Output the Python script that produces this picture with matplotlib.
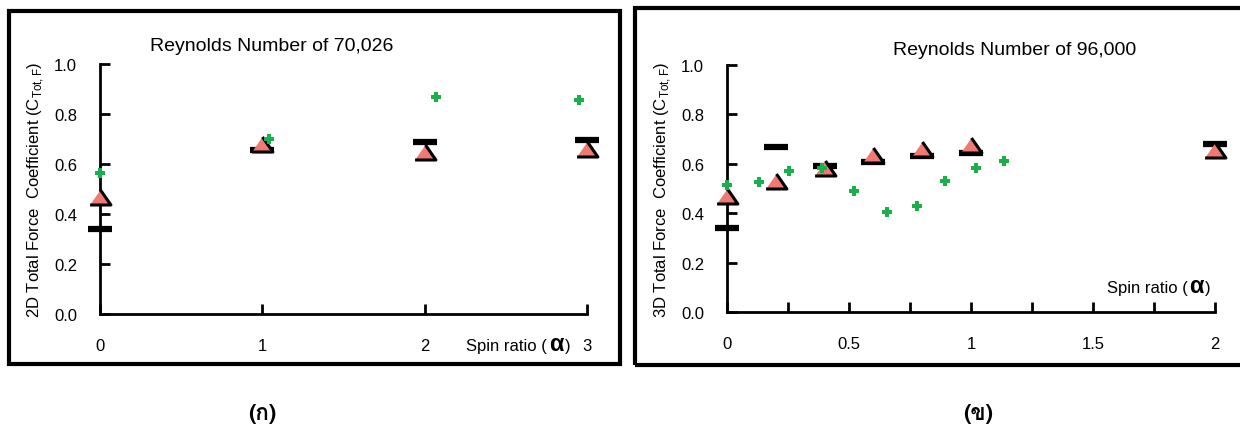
import numpy as np
import matplotlib
matplotlib.use("Agg")
import matplotlib.pyplot as plt
from matplotlib.patches import Rectangle
from matplotlib.transforms import offset_copy

# ---- data ----
# panel (ก): Re = 70,026, 2D
a2d_tri_x = [0, 1, 2, 3]
a2d_tri_y = [0.47, 0.68, 0.65, 0.66]
a2d_bar_x = [0, 1, 2, 3]
a2d_bar_y = [0.34, 0.655, 0.69, 0.695]
a2d_plus_x = [0.0, 1.04, 2.07, 2.95]
a2d_plus_y = [0.565, 0.70, 0.87, 0.855]

# panel (ข): Re = 96,000, 3D
a3d_tri_x = [0, 0.2, 0.4, 0.6, 0.8, 1.0, 2.0]
a3d_tri_y = [0.47, 0.53, 0.585, 0.635, 0.66, 0.675, 0.655]
a3d_bar_x = [0, 0.2, 0.4, 0.6, 0.8, 1.0, 2.0]
a3d_bar_y = [0.34, 0.67, 0.59, 0.608, 0.63, 0.643, 0.682]
a3d_plus_x = [0.0, 0.13, 0.255, 0.39, 0.52, 0.655, 0.78, 0.895, 1.02, 1.135]
a3d_plus_y = [0.515, 0.526, 0.571, 0.585, 0.49, 0.404, 0.431, 0.529, 0.584, 0.611]

y_ticks = [0.0, 0.2, 0.4, 0.6, 0.8, 1.0]
x_ticks_2d = [0, 1, 2, 3]
x_ticks_3d = [0, 0.5, 1, 1.5, 2]
x_minor_3d = [0.25, 0.75, 1.25, 1.75]

plt.rcParams['font.family'] = ['Liberation Sans', 'DejaVu Sans']
plt.rcParams['mathtext.fontset'] = 'custom'
plt.rcParams['mathtext.rm'] = 'Liberation Sans'

TRI = [(-1, -0.72), (1, -0.72), (0, 0.72)]
TRI_FC = '#f07a72'
GREEN = '#19b04b'
FS = 12


def panel(ax, tri_x, tri_y, bar_x, bar_y, plus_x, plus_y, xmax):
    ax.plot(plus_x, plus_y, 'P', color=GREEN, ms=7, mew=0, ls='none', clip_on=False, zorder=5)
    ax.plot(tri_x, tri_y, marker=TRI, color=TRI_FC, mec='black', mew=2.2, ms=15,
            ls='none', clip_on=False, zorder=4)
    ax.plot(bar_x, bar_y, '_', color='black', ms=17, mew=4.5, ls='none', clip_on=False, zorder=3)
    ax.set_xlim(0, xmax)
    ax.set_ylim(0, 1)
    ax.spines['top'].set_visible(False)
    ax.spines['right'].set_visible(False)
    for s in ('left', 'bottom'):
        ax.spines[s].set_linewidth(2)
    ax.set_yticks(y_ticks)
    ax.set_yticklabels([f"{v:.1f}" for v in y_ticks])
    ax.tick_params(axis='y', direction='in', length=7, width=2, labelsize=FS, pad=16.5)
    ax.tick_params(axis='x', direction='in', length=7, width=2, labelsize=FS, pad=17)
    ax.patch.set_alpha(0)


def spin_label(ax, x, y):
    # "Spin ratio (α)" with the bigger bold alpha of the original
    r = fig.canvas.get_renderer()
    dx = 0
    for s, size, weight in (("Spin ratio (", FS, 'normal'), ("α", 17, 'bold'), (")", FS, 'normal')):
        tr = offset_copy(ax.transAxes, fig=fig, x=dx, y=0, units='points')
        t = ax.text(x, y, s, transform=tr, ha='left', va='baseline', fontsize=size, fontweight=weight)
        dx += t.get_window_extent(r).width * 72 / fig.dpi + 1.2


fig = plt.figure(figsize=(12.4, 4.27), dpi=100)

ax1 = fig.add_axes([100 / 1240, 112 / 427, 487 / 1240, 250 / 427])
panel(ax1, a2d_tri_x, a2d_tri_y, a2d_bar_x, a2d_bar_y, a2d_plus_x, a2d_plus_y, 3)
ax1.set_xticks(x_ticks_2d)
ax1.set_xticklabels([str(v) for v in x_ticks_2d])
ax1.set_title("Reynolds Number of 70,026", fontsize=14, pad=10, x=0.353)
ax1.set_ylabel(r"2D Total Force  Coefficient (C$_{\mathregular{Tot,F}}$)", fontsize=12, labelpad=6)
spin_label(ax1, 0.752, -0.145)

ax2 = fig.add_axes([727 / 1240, 114 / 427, 488 / 1240, 247 / 427])
panel(ax2, a3d_tri_x, a3d_tri_y, a3d_bar_x, a3d_bar_y, a3d_plus_x, a3d_plus_y, 2)
ax2.set_xticks(x_ticks_3d)
ax2.set_xticklabels(["0", "0.5", "1", "1.5", "2"])
ax2.set_xticks(x_minor_3d, minor=True)
ax2.tick_params(axis='x', which='minor', direction='in', length=7, width=2)
ax2.set_title("Reynolds Number of 96,000", fontsize=14, pad=8, x=0.59)
ax2.set_ylabel(r"3D Total Force  Coefficient (C$_{\mathregular{Tot,F}}$)", fontsize=12, labelpad=6)
spin_label(ax2, 0.778, 0.08)

# panel frames
fig.patches.append(Rectangle((9 / 1240, 62 / 427), 611 / 1240, 353 / 427, transform=fig.transFigure,
                             fill=False, lw=3, ec='black'))
fig.patches.append(Rectangle((635 / 1240, 61 / 427), 620 / 1240, 357 / 427, transform=fig.transFigure,
                             fill=False, lw=3, ec='black'))

fig.text(262 / 1240, 1 - 414 / 427, "(ก)", ha='center', va='center', fontsize=16,
         fontweight='bold', family=['Loma', 'DejaVu Sans'])
fig.text(978 / 1240, 1 - 414 / 427, "(ข)", ha='center', va='center', fontsize=16,
         fontweight='bold', family=['Loma', 'DejaVu Sans'])

fig.savefig("out.png", dpi=100)
